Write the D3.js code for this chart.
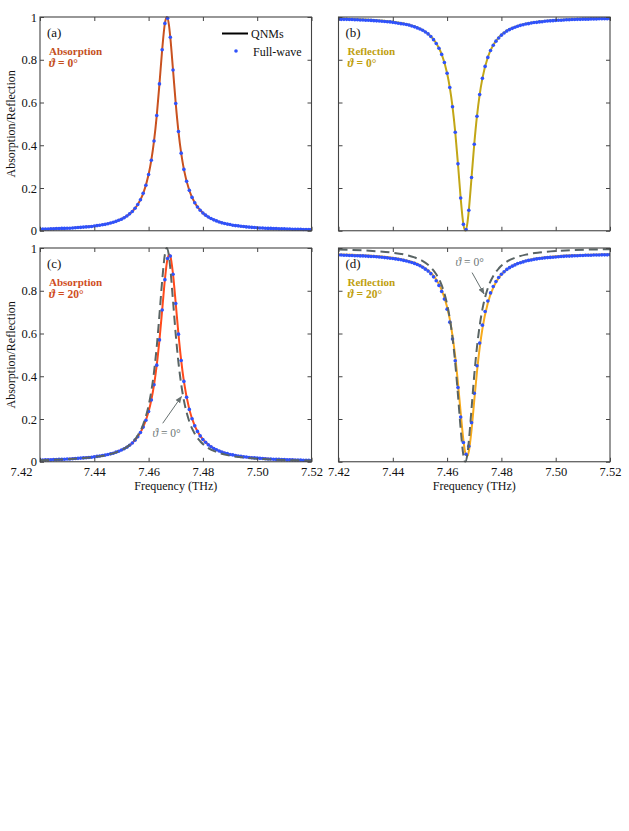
<!DOCTYPE html>
<html>
<head>
<meta charset="utf-8">
<script src="https://cdn.jsdelivr.net/npm/d3@7"></script>
<style>
  body { margin: 0; background: #fff; }
  svg { display: block; }
  text { font-family: "Liberation Serif", "Times New Roman", serif; }
</style>
</head>
<body>
<div id="chart"></div>
<script>
// QNM curves (solid lines) sampled on a non-uniform frequency grid
const freqLine = [7.420, 7.425, 7.430, 7.435, 7.440, 7.444, 7.448, 7.451, 7.454, 7.456, 7.458, 7.460,
  7.461, 7.462, 7.463, 7.464, 7.465, 7.466, 7.4667, 7.4675, 7.468, 7.469, 7.470, 7.471, 7.472, 7.473,
  7.475, 7.477, 7.479, 7.482, 7.485, 7.489, 7.494, 7.500, 7.506, 7.513, 7.520];
const absQnm0 = [0.007, 0.009, 0.012, 0.016, 0.022, 0.030, 0.044, 0.061, 0.090, 0.123, 0.174, 0.263,
  0.330, 0.420, 0.539, 0.687, 0.847, 0.970, 1.000, 0.962, 0.904, 0.752, 0.595, 0.464, 0.363, 0.287,
  0.188, 0.131, 0.096, 0.064, 0.046, 0.031, 0.021, 0.014, 0.010, 0.007, 0.006];
const refQnm0 = [0.993, 0.991, 0.988, 0.984, 0.978, 0.970, 0.956, 0.939, 0.910, 0.877, 0.826, 0.737,
  0.670, 0.580, 0.461, 0.313, 0.153, 0.030, 0.000, 0.038, 0.096, 0.248, 0.405, 0.536, 0.637, 0.713,
  0.812, 0.869, 0.904, 0.936, 0.954, 0.969, 0.979, 0.986, 0.990, 0.993, 0.994];
const absQnm20 = [0.008, 0.010, 0.013, 0.017, 0.023, 0.031, 0.045, 0.061, 0.088, 0.117, 0.162, 0.235,
  0.289, 0.360, 0.452, 0.570, 0.710, 0.852, 0.929, 0.970, 0.962, 0.877, 0.740, 0.597, 0.474, 0.376,
  0.245, 0.168, 0.121, 0.079, 0.056, 0.038, 0.025, 0.017, 0.012, 0.009, 0.006];
const refQnm20 = [0.970, 0.968, 0.965, 0.961, 0.954, 0.945, 0.931, 0.913, 0.884, 0.853, 0.804, 0.724,
  0.666, 0.589, 0.491, 0.368, 0.230, 0.102, 0.042, 0.027, 0.049, 0.149, 0.286, 0.420, 0.533, 0.622,
  0.743, 0.815, 0.860, 0.900, 0.923, 0.940, 0.953, 0.961, 0.966, 0.969, 0.971];

// Full-wave simulation points (dots)
const freqDots = [7.420, 7.421, 7.422, 7.423, 7.424, 7.425, 7.426, 7.427, 7.428, 7.429,
  7.430, 7.431, 7.432, 7.433, 7.434, 7.435, 7.436, 7.437, 7.438, 7.439,
  7.440, 7.441, 7.442, 7.443, 7.444, 7.445, 7.446, 7.447, 7.448, 7.449,
  7.450, 7.451, 7.452, 7.453, 7.454, 7.455, 7.456, 7.457, 7.458, 7.459,
  7.460, 7.461, 7.462, 7.463, 7.464, 7.465, 7.466, 7.467, 7.468, 7.469,
  7.470, 7.471, 7.472, 7.473, 7.474, 7.475, 7.476, 7.477, 7.478, 7.479,
  7.480, 7.481, 7.482, 7.483, 7.484, 7.485, 7.486, 7.487, 7.488, 7.489,
  7.490, 7.491, 7.492, 7.493, 7.494, 7.495, 7.496, 7.497, 7.498, 7.499,
  7.500, 7.501, 7.502, 7.503, 7.504, 7.505, 7.506, 7.507, 7.508, 7.509,
  7.510, 7.511, 7.512, 7.513, 7.514, 7.515, 7.516, 7.517, 7.518, 7.519, 7.520];
const absFull0 = [0.007, 0.008, 0.008, 0.008, 0.009, 0.009, 0.010, 0.010, 0.011, 0.011,
  0.012, 0.012, 0.013, 0.014, 0.015, 0.016, 0.017, 0.018, 0.019, 0.020,
  0.022, 0.024, 0.026, 0.028, 0.030, 0.033, 0.036, 0.040, 0.044, 0.049,
  0.054, 0.061, 0.069, 0.079, 0.090, 0.105, 0.123, 0.145, 0.175, 0.213,
  0.263, 0.330, 0.420, 0.539, 0.687, 0.847, 0.970, 0.994, 0.905, 0.752,
  0.595, 0.464, 0.363, 0.287, 0.231, 0.189, 0.156, 0.131, 0.111, 0.096,
  0.083, 0.073, 0.064, 0.057, 0.051, 0.046, 0.041, 0.037, 0.034, 0.031,
  0.029, 0.026, 0.024, 0.023, 0.021, 0.020, 0.018, 0.017, 0.016, 0.015,
  0.014, 0.013, 0.013, 0.012, 0.011, 0.011, 0.010, 0.010, 0.009, 0.009,
  0.009, 0.008, 0.008, 0.007, 0.007, 0.007, 0.007, 0.006, 0.006, 0.006, 0.006];
const refFull0 = [0.990, 0.989, 0.989, 0.989, 0.988, 0.988, 0.987, 0.987, 0.986, 0.986,
  0.985, 0.985, 0.984, 0.983, 0.982, 0.981, 0.980, 0.979, 0.978, 0.977,
  0.975, 0.973, 0.971, 0.969, 0.967, 0.965, 0.962, 0.958, 0.954, 0.949,
  0.944, 0.938, 0.930, 0.921, 0.909, 0.894, 0.876, 0.854, 0.825, 0.787,
  0.737, 0.670, 0.580, 0.461, 0.313, 0.153, 0.030, 0.006, 0.096, 0.249,
  0.405, 0.536, 0.637, 0.713, 0.769, 0.811, 0.843, 0.868, 0.887, 0.902,
  0.915, 0.925, 0.934, 0.941, 0.947, 0.952, 0.957, 0.961, 0.964, 0.967,
  0.969, 0.972, 0.974, 0.975, 0.977, 0.978, 0.980, 0.981, 0.982, 0.983,
  0.984, 0.985, 0.985, 0.986, 0.987, 0.987, 0.988, 0.988, 0.989, 0.989,
  0.990, 0.990, 0.990, 0.991, 0.991, 0.991, 0.992, 0.992, 0.992, 0.992, 0.992];
const absFull20 = [0.008, 0.008, 0.009, 0.009, 0.009, 0.010, 0.010, 0.011, 0.011, 0.012,
  0.013, 0.013, 0.014, 0.015, 0.016, 0.017, 0.018, 0.019, 0.020, 0.021,
  0.023, 0.025, 0.027, 0.029, 0.031, 0.034, 0.037, 0.040, 0.045, 0.049,
  0.055, 0.061, 0.068, 0.077, 0.088, 0.101, 0.117, 0.137, 0.162, 0.194,
  0.235, 0.289, 0.360, 0.452, 0.570, 0.710, 0.852, 0.951, 0.962, 0.877,
  0.740, 0.597, 0.474, 0.376, 0.302, 0.245, 0.201, 0.168, 0.142, 0.121,
  0.104, 0.091, 0.079, 0.070, 0.062, 0.056, 0.050, 0.045, 0.041, 0.038,
  0.034, 0.032, 0.029, 0.027, 0.025, 0.023, 0.022, 0.020, 0.019, 0.018,
  0.017, 0.016, 0.015, 0.014, 0.013, 0.013, 0.012, 0.011, 0.011, 0.010,
  0.010, 0.009, 0.009, 0.009, 0.008, 0.008, 0.008, 0.007, 0.007, 0.007, 0.006];
const refFull20 = [0.967, 0.967, 0.966, 0.966, 0.965, 0.965, 0.964, 0.964, 0.963, 0.963,
  0.962, 0.961, 0.960, 0.960, 0.959, 0.958, 0.957, 0.955, 0.954, 0.952,
  0.951, 0.949, 0.947, 0.945, 0.942, 0.939, 0.936, 0.932, 0.928, 0.923,
  0.917, 0.910, 0.901, 0.892, 0.880, 0.865, 0.847, 0.825, 0.797, 0.761,
  0.714, 0.653, 0.574, 0.472, 0.347, 0.209, 0.090, 0.035, 0.073, 0.183,
  0.320, 0.449, 0.555, 0.639, 0.703, 0.752, 0.790, 0.820, 0.843, 0.862,
  0.877, 0.889, 0.900, 0.908, 0.915, 0.921, 0.927, 0.931, 0.935, 0.939,
  0.942, 0.944, 0.947, 0.949, 0.951, 0.952, 0.954, 0.955, 0.956, 0.957,
  0.958, 0.959, 0.960, 0.961, 0.962, 0.962, 0.963, 0.964, 0.964, 0.965,
  0.965, 0.966, 0.966, 0.966, 0.967, 0.967, 0.967, 0.968, 0.968, 0.968, 0.969];

const xTicks = [7.42, 7.44, 7.46, 7.48, 7.50, 7.52];
const yTicks = [0, 0.2, 0.4, 0.6, 0.8, 1];

// Layout of the 2x2 grid
const width = 629, height = 831;
const colX = [40, 338.5];
const rowY = [17, 248];
const pw = 271.5, ph = 213.75;

const dotColor = "#2f52fb";
const grey = "#596464";

const panels = [
  { tag: "(a)", col: 0, row: 0, kind: "Absorption", angle: "0", line: "#c9511f", txt: "#c4501d",
    qnm: absQnm0, full: absFull0, legend: true },
  { tag: "(b)", col: 1, row: 0, kind: "Reflection", angle: "0", line: "#c2a616", txt: "#c0a010",
    qnm: refQnm0, full: refFull0 },
  { tag: "(c)", col: 0, row: 1, kind: "Absorption", angle: "20", line: "#ff4a1c", txt: "#cf4d1e",
    qnm: absQnm20, full: absFull20, ref: absQnm0,
    note: { text: [7.4614, 0.115], from: [7.4652, 0.18], to: [7.4721, 0.305] } },
  { tag: "(d)", col: 1, row: 1, kind: "Reflection", angle: "20", line: "#f6aa1c", txt: "#c0a010",
    qnm: refQnm20, full: refFull20, ref: refQnm0,
    note: { text: [7.4631, 0.918], from: [7.4692, 0.885], to: [7.4736, 0.785] } }
];

const svg = d3.select("#chart").append("svg")
  .attr("width", width)
  .attr("height", height)
  .style("background", "#fff");

const defs = svg.append("defs");
defs.append("marker")
  .attr("id", "arrow")
  .attr("viewBox", "0 0 10 10")
  .attr("refX", 9).attr("refY", 5)
  .attr("markerWidth", 7).attr("markerHeight", 7)
  .attr("markerUnits", "userSpaceOnUse")
  .attr("orient", "auto")
  .append("path")
  .attr("d", "M0,1 L10,5 L0,9 Z")
  .attr("fill", "#667070");

const x = d3.scaleLinear().domain([7.42, 7.52]).range([0, pw]);
const y = d3.scaleLinear().domain([0, 1]).range([ph, 0]);

const lineGen = d3.line()
  .x((d, i) => x(freqLine[i]))
  .y(d => y(d))
  .curve(d3.curveMonotoneX);

panels.forEach((p, pi) => {
  const g = svg.append("g")
    .attr("transform", `translate(${colX[p.col]},${rowY[p.row]})`);

  defs.append("clipPath").attr("id", "clip" + pi)
    .append("rect").attr("x", 0).attr("y", -1).attr("width", pw).attr("height", ph + 2);

  const plot = g.append("g").attr("clip-path", `url(#clip${pi})`);

  // QNM line
  plot.append("path")
    .datum(p.qnm)
    .attr("d", lineGen)
    .attr("fill", "none")
    .attr("stroke", p.line)
    .attr("stroke-width", 2);

  // full-wave dots
  plot.selectAll("circle")
    .data(p.full)
    .enter()
    .append("circle")
    .attr("cx", (d, i) => x(freqDots[i]))
    .attr("cy", d => y(d))
    .attr("r", 1.8)
    .attr("fill", dotColor);

  // normal incidence reference (dashed)
  if (p.ref) {
    plot.append("path")
      .datum(p.ref)
      .attr("d", lineGen)
      .attr("fill", "none")
      .attr("stroke", grey)
      .attr("stroke-width", 2)
      .attr("stroke-dasharray", "9,5");
  }

  // axes: ticks point inwards on all four sides
  const bottom = d3.axisBottom(x).tickValues(xTicks).tickSizeInner(-4).tickSizeOuter(0).tickPadding(5)
    .tickFormat(p.row === 1 ? d3.format(".2f") : () => "");
  const top = d3.axisTop(x).tickValues(xTicks).tickSizeInner(-4).tickSizeOuter(0).tickFormat(() => "");
  const left = d3.axisLeft(y).tickValues(yTicks).tickSizeInner(-4).tickSizeOuter(0).tickPadding(3)
    .tickFormat(p.col === 0 ? d3.format("") : () => "");
  const right = d3.axisRight(y).tickValues(yTicks).tickSizeInner(-4).tickSizeOuter(0).tickFormat(() => "");

  [[bottom, `translate(0,${ph})`], [top, null], [left, null], [right, `translate(${pw},0)`]]
    .forEach(([ax, tr]) => {
      const a = g.append("g").call(ax);
      if (tr) a.attr("transform", tr);
      a.select(".domain").remove();
      a.selectAll("line").attr("stroke", "#444").attr("stroke-width", 1);
      a.selectAll("text")
        .style("font-family", '"Liberation Serif", serif')
        .style("font-size", "12.5px")
        .attr("fill", "#111");
      // the first frequency label of the left panel sits clear of the "0"
      if (ax === bottom && p.col === 0 && p.row === 1) {
        a.selectAll(".tick text").filter(d => d === xTicks[0]).attr("dx", -19);
      }
    });

  g.append("rect")
    .attr("width", pw).attr("height", ph)
    .attr("fill", "none")
    .attr("stroke", "#444")
    .attr("stroke-width", 1.1);

  // panel tag and description
  g.append("text").attr("x", 7).attr("y", 20)
    .style("font-size", "13px").attr("fill", "#111").text(p.tag);
  g.append("text").attr("x", 9).attr("y", 38)
    .style("font-size", "11px").style("font-weight", "bold")
    .attr("fill", p.txt).text(p.kind);
  const th = g.append("text").attr("x", 9).attr("y", 50)
    .style("font-size", "11.5px").style("font-weight", "bold").attr("fill", p.txt);
  th.append("tspan").style("font-style", "italic").text("ϑ");
  th.append("tspan").text(" = " + p.angle + "°");

  // annotation of the dashed curve
  if (p.note) {
    const t = g.append("text")
      .attr("x", x(p.note.text[0])).attr("y", y(p.note.text[1]))
      .style("font-size", "11.5px").attr("fill", "#6e7777");
    t.append("tspan").style("font-style", "italic").text("ϑ");
    t.append("tspan").text(" = 0°");
    g.append("line")
      .attr("x1", x(p.note.from[0])).attr("y1", y(p.note.from[1]))
      .attr("x2", x(p.note.to[0])).attr("y2", y(p.note.to[1]))
      .attr("stroke", "#667070").attr("stroke-width", 1)
      .attr("marker-end", "url(#arrow)");
  }

  // legend only in panel (a)
  if (p.legend) {
    g.append("line").attr("x1", 182).attr("x2", 208).attr("y1", 16.5).attr("y2", 16.5)
      .attr("stroke", "#000").attr("stroke-width", 2);
    g.append("text").attr("x", 211).attr("y", 21).style("font-size", "12px").attr("fill", "#111").text("QNMs");
    g.append("circle").attr("cx", 196).attr("cy", 34).attr("r", 1.8).attr("fill", dotColor);
    g.append("text").attr("x", 213).attr("y", 38.5).style("font-size", "12px").attr("fill", "#111").text("Full-wave");
  }

  // axis titles
  if (p.col === 0) {
    g.append("text")
      .attr("transform", `translate(-25,${ph / 2}) rotate(-90)`)
      .attr("text-anchor", "middle")
      .style("font-size", "12px").attr("fill", "#111")
      .text("Absorption/Reflection");
  }
  if (p.row === 1) {
    g.append("text")
      .attr("x", pw / 2).attr("y", ph + 28)
      .attr("text-anchor", "middle")
      .style("font-size", "12px").attr("fill", "#111")
      .text("Frequency (THz)");
  }
});
</script>
</body>
</html>
